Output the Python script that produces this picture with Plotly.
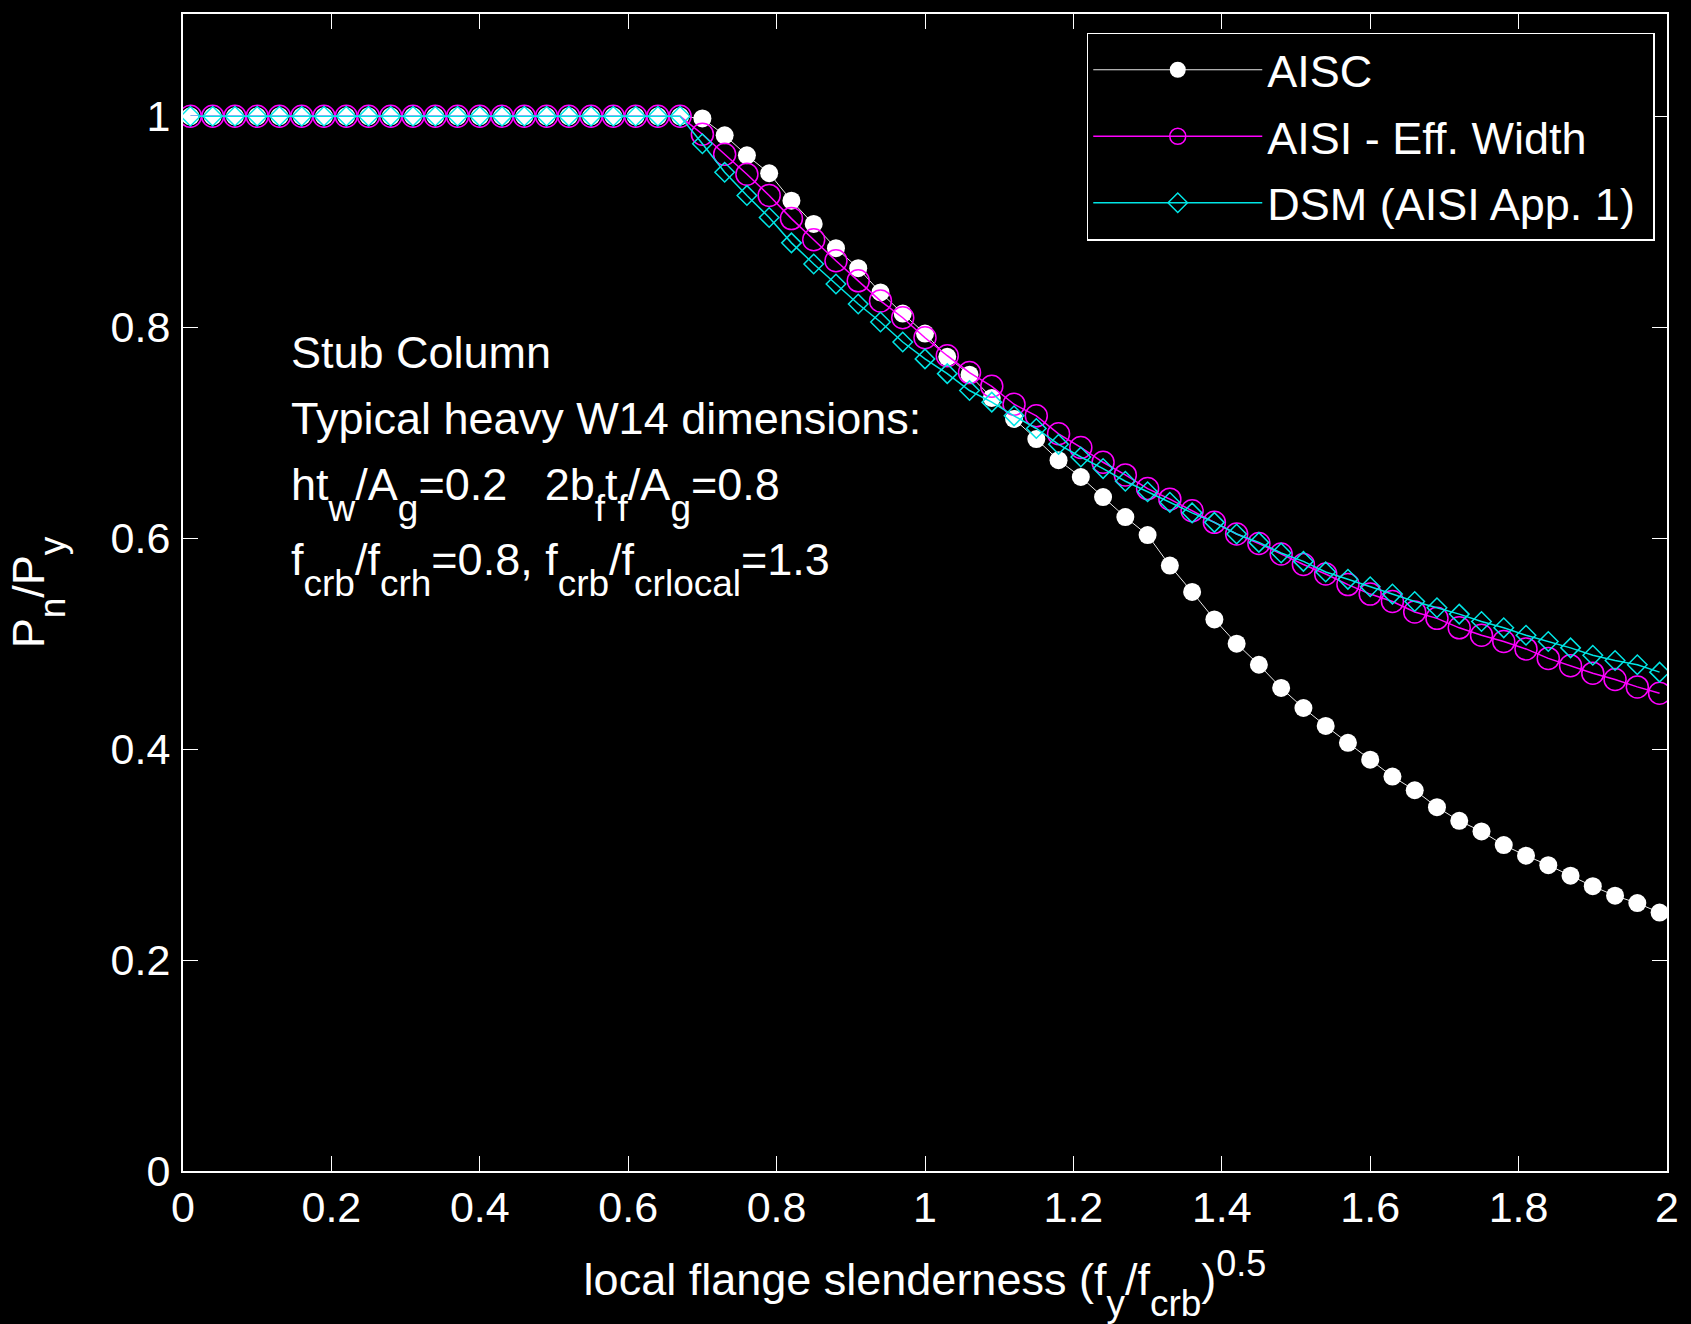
import plotly.graph_objects as go

# ---- data ----
x_slender = [0.01, 0.04, 0.07, 0.10, 0.13, 0.16, 0.19, 0.22, 0.25, 0.28, 0.31, 0.34,
             0.37, 0.40, 0.43, 0.46, 0.49, 0.52, 0.55, 0.58, 0.61, 0.64, 0.67, 0.70,
             0.73, 0.76, 0.79, 0.82, 0.85, 0.88, 0.91, 0.94, 0.97, 1.00, 1.03, 1.06,
             1.09, 1.12, 1.15, 1.18, 1.21, 1.24, 1.27, 1.30, 1.33, 1.36, 1.39, 1.42,
             1.45, 1.48, 1.51, 1.54, 1.57, 1.60, 1.63, 1.66, 1.69, 1.72, 1.75, 1.78,
             1.81, 1.84, 1.87, 1.90, 1.93, 1.96, 1.99]

aisc = [1.0, 1.0, 1.0, 1.0, 1.0, 1.0, 1.0, 1.0, 1.0, 1.0, 1.0, 1.0,
        1.0, 1.0, 1.0, 1.0, 1.0, 1.0, 1.0, 1.0, 1.0, 1.0, 1.0, 0.998,
        0.982, 0.963, 0.946, 0.920, 0.898, 0.875, 0.856, 0.833, 0.813, 0.794, 0.772, 0.755,
        0.733, 0.713, 0.694, 0.674, 0.658, 0.639, 0.620, 0.603, 0.574, 0.549, 0.523, 0.500,
        0.480, 0.458, 0.439, 0.422, 0.406, 0.390, 0.374, 0.361, 0.345, 0.332, 0.322, 0.309,
        0.299, 0.290, 0.280, 0.270, 0.261, 0.254, 0.245]

aisi_eff = [1.0, 1.0, 1.0, 1.0, 1.0, 1.0, 1.0, 1.0, 1.0, 1.0, 1.0, 1.0,
            1.0, 1.0, 1.0, 1.0, 1.0, 1.0, 1.0, 1.0, 1.0, 1.0, 1.0, 0.983,
            0.964, 0.945, 0.925, 0.903, 0.883, 0.863, 0.844, 0.825, 0.809, 0.790, 0.773, 0.757,
            0.744, 0.727, 0.716, 0.699, 0.686, 0.672, 0.660, 0.647, 0.637, 0.626, 0.615, 0.604,
            0.595, 0.585, 0.575, 0.566, 0.556, 0.547, 0.540, 0.530, 0.524, 0.515, 0.508, 0.502,
            0.495, 0.486, 0.479, 0.472, 0.466, 0.459, 0.453]

dsm = [1.0, 1.0, 1.0, 1.0, 1.0, 1.0, 1.0, 1.0, 1.0, 1.0, 1.0, 1.0,
       1.0, 1.0, 1.0, 1.0, 1.0, 1.0, 1.0, 1.0, 1.0, 1.0, 1.0, 0.974,
       0.947, 0.925, 0.904, 0.880, 0.860, 0.841, 0.822, 0.805, 0.786, 0.770, 0.756, 0.740,
       0.729, 0.716, 0.704, 0.689, 0.677, 0.666, 0.654, 0.644, 0.634, 0.624, 0.615, 0.604,
       0.596, 0.586, 0.578, 0.568, 0.561, 0.554, 0.547, 0.540, 0.534, 0.528, 0.521, 0.515,
       0.508, 0.502, 0.496, 0.489, 0.484, 0.480, 0.473]

series_names = ["AISC", "AISI - Eff. Width", "DSM (AISI App. 1)&nbsp;"]


def sb(t):
    return '<sub><span style="font-size:37px;baseline-shift:-12px">' + t + '</span></sub>'


def sp(t):
    return '<sup><span style="font-size:36px">' + t + '</span></sup>'


note_lines = [
    "Stub Column",
    "Typical heavy W14 dimensions:",
    "ht" + sb("w") + "/A" + sb("g") + "=0.2&nbsp;&nbsp;&nbsp;2b" + sb("f") + "t" + sb("f") + "/A" + sb("g") + "=0.8",
    "f" + sb("crb") + "/f" + sb("crh") + "=0.8, f" + sb("crb") + "/f" + sb("crlocal") + "=1.3",
]
x_title = "local flange slenderness (f" + sb("y") + "/f" + sb("crb") + ")" + sp("0.5")
y_title = "P" + sb("n") + "/P" + sb("y")

FONT = "Liberation Sans, Arial, Helvetica, sans-serif"
FS = 45
FS_TICK = 43

fig = go.Figure()
fig.add_trace(go.Scatter(
    x=x_slender, y=aisc, name=series_names[0], mode="lines+markers", legendgroup="a",
    line=dict(color="#e8e8e8", width=1),
    marker=dict(symbol="circle", size=18, color="white", line=dict(width=0)),
))
fig.add_trace(go.Scatter(
    x=x_slender, y=aisi_eff, name=series_names[1], mode="lines+markers", legendgroup="b",
    line=dict(color="#ff00ff", width=1.5),
    marker=dict(symbol="circle-open", size=22, color="#ff00ff", line=dict(width=1.5)),
))
fig.add_trace(go.Scatter(
    x=x_slender, y=dsm, name=series_names[2], mode="lines+markers", legendgroup="c",
    line=dict(color="#00e5e5", width=1.5),
    marker=dict(symbol="diamond-open", size=15, color="#00e5e5", line=dict(width=1.5)),
))

note_y = [0.7077, 0.650, 0.5853, 0.520]
for txt, yy in zip(note_lines, note_y):
    fig.add_annotation(
        x=0.0712, y=yy, xref="paper", yref="paper", text=txt, showarrow=False,
        xanchor="left", yanchor="middle", align="left",
        font=dict(family=FONT, size=FS, color="white"),
    )

axis_common = dict(
    showgrid=False, zeroline=False, showline=True, linecolor="white", linewidth=2,
    mirror="ticks", ticks="inside", ticklen=15, tickwidth=1, tickcolor="white",
    tickfont=dict(family=FONT, size=FS_TICK, color="white"),
)

fig.update_xaxes(
    range=[0, 2], tick0=0, dtick=0.2, **axis_common,
    title=dict(text=x_title, font=dict(family=FONT, size=FS, color="white"), standoff=34),
    ticklabelstandoff=-3,
)
fig.update_yaxes(
    range=[0, 1.097], tick0=0, dtick=0.2, **axis_common,
    title=dict(text=y_title, font=dict(family=FONT, size=FS, color="white"), standoff=52),
    ticklabelstandoff=2,
)

fig.update_layout(
    width=1691, height=1324, autosize=False,
    margin=dict(l=183, r=19, t=12, b=153, pad=0),
    paper_bgcolor="black", plot_bgcolor="black",
    font=dict(family=FONT, size=FS, color="white"),
    legend=dict(
        x=0.609, y=0.984, xanchor="left", yanchor="top",
        bgcolor="black", bordercolor="white", borderwidth=1.5,
        font=dict(family=FONT, size=FS, color="white"),
        itemwidth=169, tracegroupgap=5,
    ),
)

fig.write_html("out.html")
